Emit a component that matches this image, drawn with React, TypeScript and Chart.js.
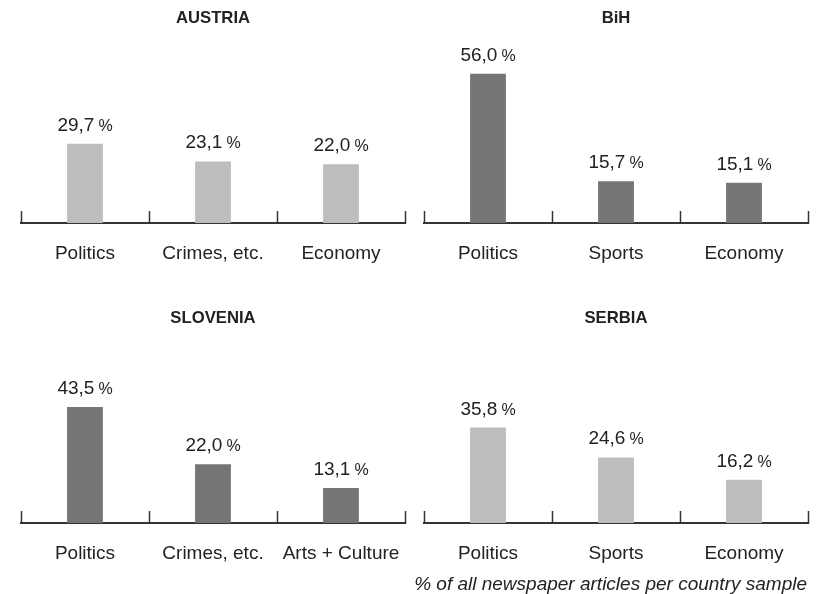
import React, { useEffect, useRef } from "react";
import { Chart, registerables } from "chart.js";

Chart.register(...registerables);

const austriaCategories = ["Politics", "Crimes, etc.", "Economy"];
const austriaValues = [29.7, 23.1, 22.0];
const bihCategories = ["Politics", "Sports", "Economy"];
const bihValues = [56.0, 15.7, 15.1];
const sloveniaCategories = ["Politics", "Crimes, etc.", "Arts + Culture"];
const sloveniaValues = [43.5, 22.0, 13.1];
const serbiaCategories = ["Politics", "Sports", "Economy"];
const serbiaValues = [35.8, 24.6, 16.2];
const yAxisMax = 60;
const footnote = "% of all newspaper articles per country sample";

const LIGHT = "#bdbdbd";
const DARK = "#757575";
const TEXT = "#222222";
const AXIS = "#333333";
const FONT = "'Liberation Sans', Arial, sans-serif";

const panels = [
  { title: "AUSTRIA", categories: austriaCategories, values: austriaValues, color: LIGHT, left: 0, top: 0 },
  { title: "BiH", categories: bihCategories, values: bihValues, color: DARK, left: 403, top: 0 },
  { title: "SLOVENIA", categories: sloveniaCategories, values: sloveniaValues, color: DARK, left: 0, top: 300 },
  { title: "SERBIA", categories: serbiaCategories, values: serbiaValues, color: LIGHT, left: 403, top: 300 },
];

const W = 411;
const H = 297;

const boundaryTicks = {
  id: "boundaryTicks",
  afterDraw(chart: any) {
    const x = chart.scales.x;
    const ctx = chart.ctx;
    const n = chart.data.labels.length;
    const yAxis = x.top;
    ctx.save();
    ctx.strokeStyle = AXIS;
    ctx.lineWidth = 1.5;
    for (let i = 0; i <= n; i++) {
      const px = Math.round(x.getPixelForValue(i - 0.5)) + 0.5;
      ctx.beginPath();
      ctx.moveTo(px, yAxis + 1);
      ctx.lineTo(px, yAxis - 12);
      ctx.stroke();
    }
    ctx.restore();
  },
};

const valueLabels = {
  id: "valueLabels",
  afterDatasetsDraw(chart: any) {
    const ctx = chart.ctx;
    const meta = chart.getDatasetMeta(0);
    const values = chart.data.datasets[0].data;
    ctx.save();
    ctx.fillStyle = TEXT;
    ctx.textBaseline = "alphabetic";
    ctx.textAlign = "left";
    meta.data.forEach((bar: any, i: number) => {
      const num = Number(values[i]).toFixed(1).replace(".", ",");
      ctx.font = `19px ${FONT}`;
      const wNum = ctx.measureText(num).width;
      ctx.font = `16px ${FONT}`;
      const wPct = ctx.measureText("%").width;
      const gap = 4;
      const total = wNum + gap + wPct;
      const x0 = bar.x - total / 2;
      const y = bar.y - 13;
      ctx.font = `19px ${FONT}`;
      ctx.fillText(num, x0, y);
      ctx.font = `16px ${FONT}`;
      ctx.fillText("%", x0 + wNum + gap, y);
    });
    ctx.restore();
  },
};

function Panel({ p }: { p: any }) {
  const ref = useRef<HTMLCanvasElement>(null);
  useEffect(() => {
    const chart = new Chart(ref.current as HTMLCanvasElement, {
      type: "bar",
      data: {
        labels: p.categories,
        datasets: [
          {
            data: p.values,
            backgroundColor: p.color,
            borderWidth: 0,
            barPercentage: 0.28,
            categoryPercentage: 1,
          },
        ],
      },
      options: {
        responsive: false,
        animation: false,
        devicePixelRatio: 1,
        layout: { padding: { left: 21, right: 6, top: 0, bottom: 0 } },
        plugins: {
          legend: { display: false },
          tooltip: { enabled: false },
          title: {
            display: true,
            text: p.title,
            color: TEXT,
            font: { family: FONT, size: 16.7, weight: "bold" },
            padding: { top: 8, bottom: 35 },
          },
        },
        scales: {
          y: { display: false, min: 0, max: yAxisMax },
          x: {
            grid: { display: false, drawTicks: false },
            border: { display: true, color: AXIS, width: 2 },
            ticks: {
              color: TEXT,
              font: { family: FONT, size: 19 },
              padding: 19,
              maxRotation: 0,
              autoSkip: false,
            },
            afterFit: (scale: any) => {
              scale.height = 74;
              scale.paddingLeft = 0;
              scale.paddingRight = 0;
            },
          },
        },
      },
      plugins: [boundaryTicks, valueLabels],
    } as any);
    return () => chart.destroy();
  }, []);
  return (
    <canvas
      ref={ref}
      width={W}
      height={H}
      style={{ position: "absolute", left: p.left, top: p.top, width: W, height: H }}
    />
  );
}

export default function App() {
  return (
    <div
      style={{
        position: "fixed",
        left: 0,
        top: 0,
        width: 823,
        height: 594,
        background: "#ffffff",
        overflow: "hidden",
      }}
    >
      {panels.map((p) => (
        <Panel key={p.title} p={p} />
      ))}
      <div
        style={{
          position: "absolute",
          right: 16,
          top: 574,
          fontFamily: FONT,
          fontStyle: "italic",
          fontSize: 19,
          lineHeight: "19px",
          color: TEXT,
          whiteSpace: "nowrap",
        }}
      >
        {footnote}
      </div>
    </div>
  );
}
